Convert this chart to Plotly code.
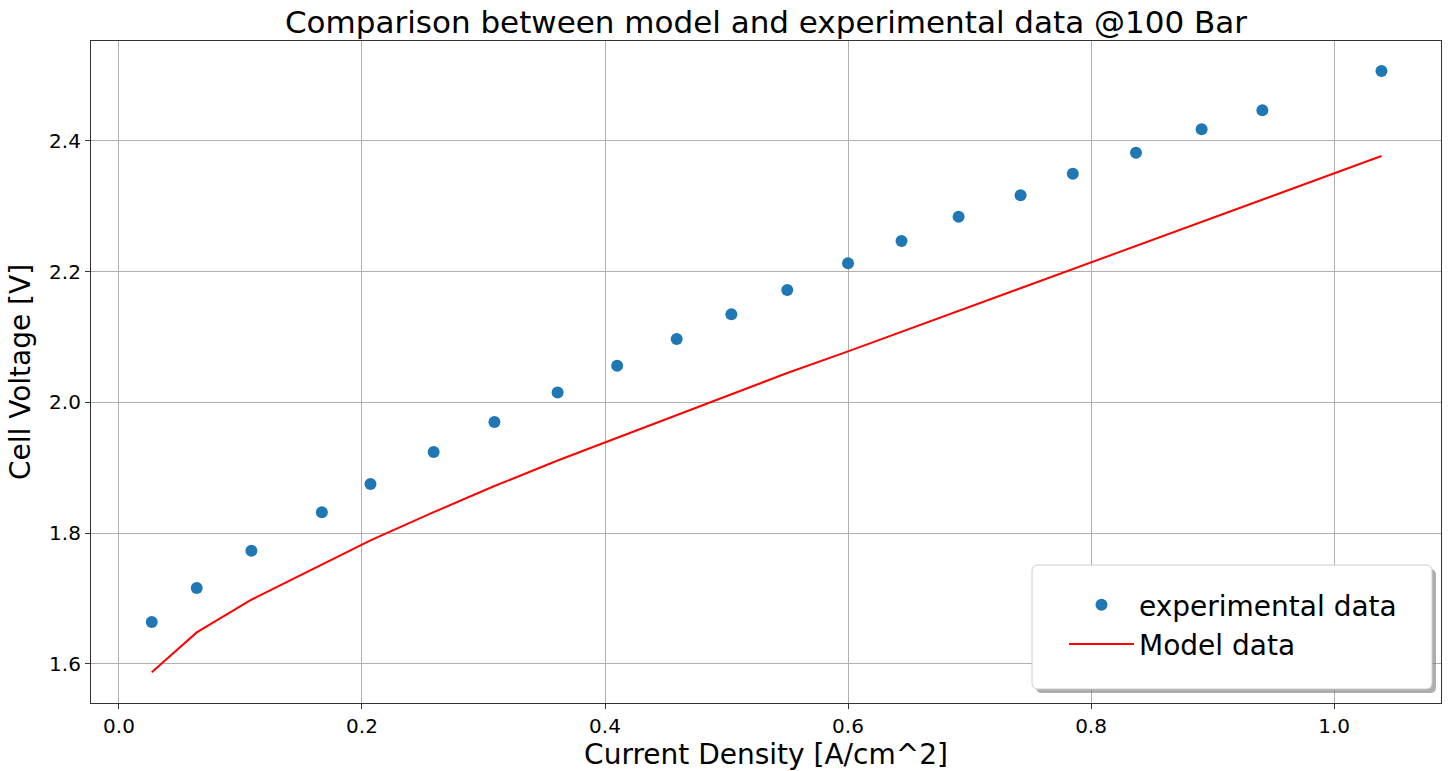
import plotly.graph_objects as go

current_density = [0.027, 0.064, 0.109, 0.167, 0.207, 0.259, 0.309, 0.361, 0.410, 0.459,
                   0.504, 0.550, 0.600, 0.644, 0.691, 0.742, 0.785, 0.837, 0.891, 0.941, 1.039]
experimental_voltage = [1.664, 1.716, 1.773, 1.832, 1.875, 1.924, 1.970, 2.015, 2.056, 2.097,
                        2.135, 2.172, 2.213, 2.247, 2.284, 2.317, 2.350, 2.382, 2.418, 2.447, 2.507]
model_voltage = [1.587, 1.648, 1.698, 1.752, 1.789, 1.832, 1.872, 1.911, 1.946, 1.980,
                 2.013, 2.045, 2.078, 2.108, 2.140, 2.175, 2.204, 2.240, 2.277, 2.311, 2.377]

x_ticks = [0.0, 0.2, 0.4, 0.6, 0.8, 1.0]
y_ticks = [1.6, 1.8, 2.0, 2.2, 2.4]

FONT = "DejaVu Sans"

fig = go.Figure()
fig.add_trace(go.Scatter(
    x=current_density, y=experimental_voltage, mode="markers",
    name="experimental data",
    marker=dict(color="#1f77b4", size=12),
))
fig.add_trace(go.Scatter(
    x=current_density, y=model_voltage, mode="lines",
    name="Model data",
    line=dict(color="red", width=2),
))

L, R, T, B = 91, 1441, 41, 703
W, H = R - L, B - T
def px(x): return (x - L) / W
def py(y): return (B - y) / H

def rrect(x0, y0, x1, y1, r):
    X0, X1 = px(x0), px(x1)
    Y0, Y1 = py(y0), py(y1)
    rx, ry = r / W, r / H
    return (f"M{X0+rx},{Y0} L{X1-rx},{Y0} Q{X1},{Y0} {X1},{Y0-ry} "
            f"L{X1},{Y1+ry} Q{X1},{Y1} {X1-rx},{Y1} L{X0+rx},{Y1} "
            f"Q{X0},{Y1} {X0},{Y1+ry} L{X0},{Y0-ry} Q{X0},{Y0} {X0+rx},{Y0} Z")

bx0, bx1, by0, by1 = 1032, 1432, 565, 689
fig.add_shape(type="path", xref="paper", yref="paper",
              path=rrect(bx0 + 4, by0 + 4, bx1 + 4, by1 + 4, 6),
              fillcolor="rgba(120,120,120,0.6)", line=dict(width=0), layer="above")
fig.add_shape(type="path", xref="paper", yref="paper",
              path=rrect(bx0, by0, bx1, by1, 6),
              fillcolor="white", line=dict(color="#cccccc", width=1), layer="above")

fig.update_layout(
    width=1452, height=771,
    margin=dict(l=L, r=1452 - R, t=T, b=771 - B, autoexpand=False),
    paper_bgcolor="white", plot_bgcolor="white",
    font=dict(family=FONT, color="black", size=20),
    title=dict(text="Comparison between model and experimental data @100 Bar",
               xref="container", x=766 / 1452, xanchor="center",
               yref="container", y=1 - 22 / 771, yanchor="middle",
               font=dict(size=31, family=FONT)),
    legend=dict(x=px(1064), y=py(580), xanchor="left", yanchor="top",
                bgcolor="rgba(0,0,0,0)", borderwidth=0,
                font=dict(size=28, family=FONT), itemwidth=65,
                tracegroupgap=0),
    showlegend=True,
)
fig.update_xaxes(
    range=[-0.023, 1.088], tickvals=x_ticks, ticktext=[f"{v:.1f}" for v in x_ticks],
    showgrid=True, gridcolor="#b0b0b0", gridwidth=1,
    showline=True, linecolor="#333333", linewidth=1.2, mirror=True,
    ticks="outside", ticklen=5, tickcolor="#333333",
    zeroline=False, automargin=False,
    title=dict(text="Current Density [A/cm^2]", font=dict(size=28, family=FONT), standoff=8),
)
fig.update_yaxes(
    range=[1.540, 2.553], tickvals=y_ticks, ticktext=[f"{v:.1f}" for v in y_ticks],
    showgrid=True, gridcolor="#b0b0b0", gridwidth=1,
    showline=True, linecolor="#333333", linewidth=1.2, mirror=True,
    ticks="outside", ticklen=5, tickcolor="#333333",
    zeroline=False, automargin=False,
    title=dict(text="Cell Voltage [V]", font=dict(size=28, family=FONT), standoff=10),
)

fig.write_html("out.html")
